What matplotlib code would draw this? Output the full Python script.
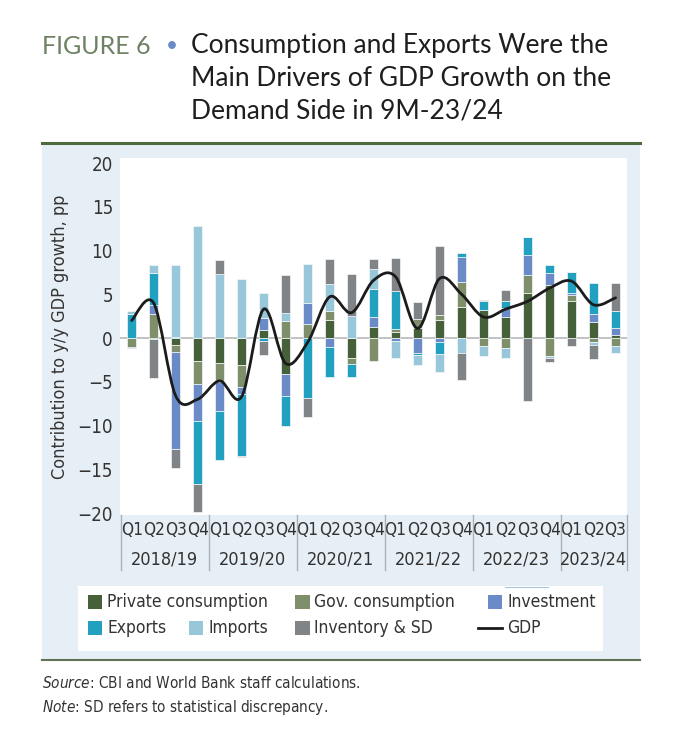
import numpy as np
import matplotlib.pyplot as plt
from matplotlib.patches import Rectangle
from matplotlib.path import Path
from matplotlib.patches import PathPatch
from matplotlib.lines import Line2D

# values (pp contribution to y/y GDP growth)
quarters = ['Q1', 'Q2', 'Q3', 'Q4'] * 5 + ['Q1', 'Q2', 'Q3']
years = ['2018/19', '2019/20', '2020/21', '2021/22', '2022/23', '2023/24']
private = [0, -0.1, -0.8, -2.6, -2.9, -3.05, 0.9, -4.1, 0, 2.1, -2.3, 1.25,
           0.65, 1.15, 2.1, 3.5, 3.15, 2.4, 5.15, 6.1, 4.2, 1.8, 0.3]
gov = [-1.0, 2.7, -0.8, -2.7, -2.1, -2.55, 0, 2.0, 1.6, 0.95, -0.7, -2.65,
       0.35, 1.05, 0.55, 2.9, -0.95, -1.15, 2.05, -2.0, 0.7, -0.4, -0.95]
investment = [0, 1.1, -11.1, -4.2, -3.3, -0.8, 1.4, -2.5, 2.4, -1.0, 0, 1.15,
              -0.3, -1.7, -0.4, 2.85, 0.1, 1.0, 2.3, 1.35, 0.25, 0.95, 0.8]
exports = [2.7, 3.6, 0.1, -7.2, -5.6, -7.05, -0.35, -3.5, -6.85, -3.4, -1.4, 3.2,
           4.4, -0.2, -1.45, 0.5, 0.95, 0.8, 2.0, 0.95, 2.35, 3.5, 1.95]
imports = [0.4, 0.9, 8.2, 12.85, 7.35, 6.8, 2.9, 0.85, 4.5, 3.15, 2.5, 2.3,
           -2.0, -1.15, -2.05, -1.75, -1.15, -1.15, 0, -0.3, 0, -0.45, -0.8]
inventory = [-0.15, -4.5, -2.1, -3.2, 1.6, -0.1, -1.6, 4.4, -2.2, 2.85, 4.8, 1.15,
             3.8, 1.9, 7.9, -3.05, 0.2, 1.3, -7.25, -0.4, -0.95, -1.6, 3.2]
gdp = [2.0, 4.0, -6.6, -7.0, -4.9, -6.7, 3.3, -2.9, -0.5, 4.7, 2.9, 6.6,
       7.0, 1.1, 6.8, 5.0, 2.4, 3.3, 4.2, 5.7, 6.5, 3.8, 4.6]

names = ['Private consumption', 'Gov. consumption', 'Investment',
         'Exports', 'Imports', 'Inventory & SD']
colors = ['#46603a', '#7f8f6b', '#6b8bc8', '#22a0bf', '#98c7da', '#818487']
series = [private, gov, investment, exports, imports, inventory]

plt.rcParams['font.family'] = ['DejaVu Sans']
plt.rcParams['font.stretch'] = 'condensed'
txt = '#333333'
tfont = ['Lato', 'DejaVu Sans']

fig = plt.figure(figsize=(6.81, 7.42), dpi=100)

# panel background and rules
fig.patches.append(Rectangle((0.0617, 0.1105), 0.878, 0.697, transform=fig.transFigure,
                             facecolor='#e7eff6', edgecolor='none', zorder=0))
fig.add_artist(Line2D([0.0617, 0.9397], [0.8075, 0.8075], color='#4d6a3c', lw=2.2))
fig.add_artist(Line2D([0.0617, 0.9397], [0.1105, 0.1105], color='#5f7356', lw=1.5))

# title
fig.text(0.061, 0.937, 'FIGURE 6', family=tfont, fontsize=18,
         color='#6e8163', va='center', stretch='normal')
fig.text(0.243, 0.938, '•', family=tfont, fontsize=15,
         color='#6b8bc8', va='center', stretch='normal')
fig.text(0.280, 0.956, 'Consumption and Exports Were the\nMain Drivers of GDP Growth on the\n'
         'Demand Side in 9M-23/24', family=tfont, fontsize=19,
         color='#1e1e1e', va='top', linespacing=1.4, stretch='normal')

ax = fig.add_axes([0.1762, 0.3059, 0.7445, 0.4811])
ax.set_zorder(2)
ax.set_facecolor('white')
x = np.arange(len(quarters))
pos_bottom = np.zeros(len(x))
neg_bottom = np.zeros(len(x))
for vals, c in zip(series, colors):
    v = np.array(vals, dtype=float)
    b = np.where(v >= 0, pos_bottom, neg_bottom)
    ax.bar(x, v, 0.44, bottom=b, color=c, edgecolor='#f4f7f9', linewidth=0.5, zorder=2)
    pos_bottom += np.where(v >= 0, v, 0)
    neg_bottom += np.where(v < 0, v, 0)

ax.axhline(0, color='#bdbdbd', lw=1.3, zorder=1)

# smoothed GDP line (Catmull-Rom as cubic Bezier segments)
pts = np.column_stack([x, gdp]).astype(float)
ext = np.vstack([pts[0], pts, pts[-1]])
verts = [tuple(pts[0])]
codes = [Path.MOVETO]
for i in range(1, len(ext) - 2):
    p0, p1, p2, p3 = ext[i - 1], ext[i], ext[i + 1], ext[i + 2]
    c1 = p1 + (p2 - p0) / 6
    c2 = p2 - (p3 - p1) / 6
    verts += [tuple(c1), tuple(c2), tuple(p2)]
    codes += [Path.CURVE4] * 3
ax.add_patch(PathPatch(Path(verts, codes), facecolor='none', edgecolor='#1b1b1b',
                       lw=2.0, zorder=3, capstyle='round'))

ax.set_xlim(-0.53, 22.52)
ax.set_ylim(-20.23, 20.57)
ax.set_yticks(range(-20, 21, 5))
ax.set_xticks(x)
ax.set_xticklabels(quarters)
ax.tick_params(axis='both', length=0, colors=txt)
ax.tick_params(axis='x', pad=4, labelsize=12.3)
ax.tick_params(axis='y', pad=5, labelsize=13.5)
for s in ax.spines.values():
    s.set_visible(False)
ax.set_ylabel('Contribution to y/y GDP growth, pp', fontsize=13, color=txt, labelpad=6)

# year separators and labels
tr = ax.get_xaxis_transform()
for sep in [-0.5, 3.5, 7.5, 11.5, 15.5, 19.5, 22.5]:
    ax.plot([sep, sep], [0, -0.155], transform=tr, color='#a9b2b8', lw=1.0, clip_on=False)
for yl, cx in zip(years, [1.5, 5.5, 9.5, 13.5, 17.5, 21.0]):
    ax.text(cx, -0.125, yl, transform=tr, ha='center', va='center', fontsize=13, color=txt)

# legend box
fig.patches.append(Rectangle((0.1145, 0.1226), 0.771, 0.0876, transform=fig.transFigure,
                             facecolor='white', edgecolor='none', zorder=1))
items = [(0, 0.129, 0.1887), (1, 0.433, 0.1887), (2, 0.716, 0.1887),
         (3, 0.129, 0.1537), (4, 0.277, 0.1537), (5, 0.433, 0.1537)]
for k, lx, ly in items:
    fig.patches.append(Rectangle((lx, ly - 0.0095), 0.0215, 0.019, transform=fig.transFigure,
                                 facecolor=colors[k], edgecolor='none', zorder=2))
    fig.text(lx + 0.0285, ly, names[k], fontsize=12.5, color=txt, va='center', zorder=3)
fig.add_artist(Line2D([0.702, 0.737], [0.1537, 0.1537], color='#1b1b1b', lw=2.0, zorder=3))
fig.add_artist(Line2D([0.741, 0.805], [0.2085, 0.2085], color='#a9c4d6', lw=0.8, zorder=3))
fig.text(0.7445, 0.1537, 'GDP', fontsize=12.5, color=txt, va='center', zorder=3)

# footer
fig.text(0.062, 0.079, r'$\it{Source}$: CBI and World Bank staff calculations.',
         fontsize=11, color=txt, va='center')
fig.text(0.062, 0.046, r'$\it{Note}$: SD refers to statistical discrepancy.',
         fontsize=11, color=txt, va='center')

fig.savefig('out.png', dpi=100)
